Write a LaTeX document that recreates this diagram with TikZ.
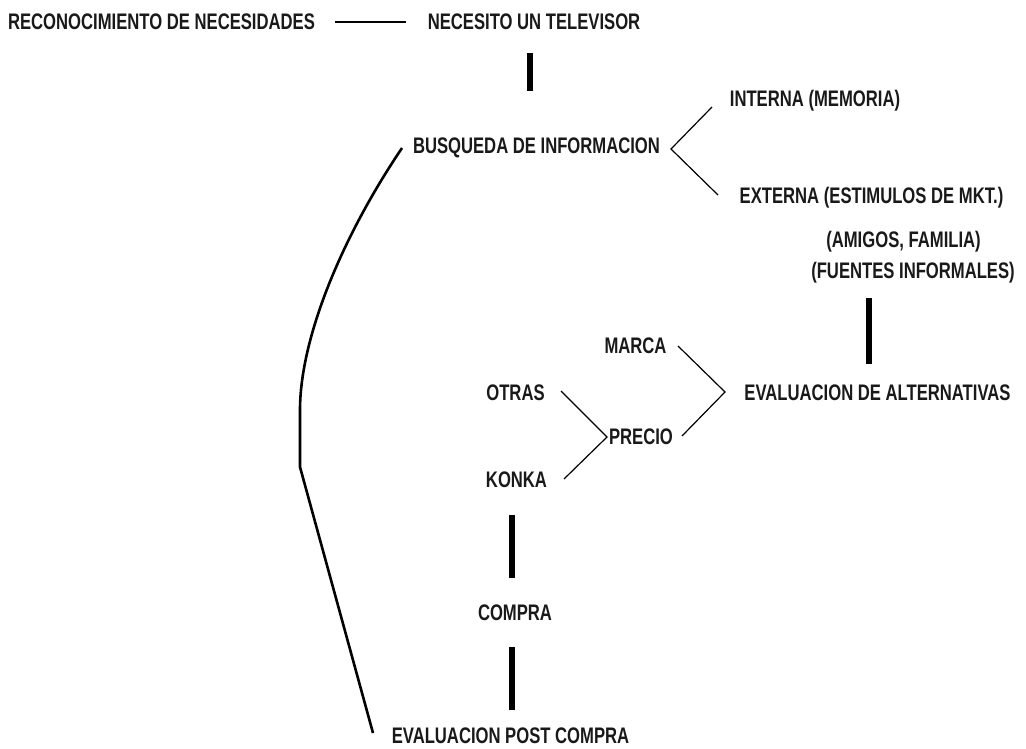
\documentclass[tikz,border=0pt]{standalone}
\usepackage{fontspec}
\newfontfamily\rotulo{Liberation Sans}[FakeStretch=0.74]
\usetikzlibrary{calc}
\tikzset{
  etapa/.style={font=\rotulo\bfseries\fontsize{22.5}{23}\selectfont, inner sep=0pt, text=black!90},
  barra/.style={line width=6pt},
  rama/.style={line width=1.2pt},
  lazo/.style={line width=2.6pt},
}

\begin{document}
\begin{tikzpicture}[x=1pt, y=-1pt]
  \useasboundingbox (0,0) rectangle (1026,749);
  % etapas
  \node[etapa] (recon)   at (161.5,22) {RECONOCIMIENTO DE NECESIDADES};
  \node[etapa] (tele)    at (534,22)   {NECESITO UN TELEVISOR};
  \node[etapa] (busq)    at (536.5,148) {BUSQUEDA DE INFORMACION};
  \node[etapa] (interna) at (815,101)  {INTERNA (MEMORIA)};
  \node[etapa] (externa) at (871.5,198) {EXTERNA (ESTIMULOS DE MKT.)};
  \node[etapa] (amigos)  at (903.5,242) {(AMIGOS, FAMILIA)};
  \node[etapa] (fuentes) at (913,273)  {(FUENTES INFORMALES)};
  \node[etapa] (marca)   at (635.5,346) {MARCA};
  \node[etapa] (evalalt) at (877.5,393) {EVALUACION DE ALTERNATIVAS};
  \node[etapa] (otras)   at (515.5,393) {OTRAS};
  \node[etapa] (precio)  at (641,437)  {PRECIO};
  \node[etapa] (konka)   at (516.5,480) {KONKA};
  \node[etapa] (compra)  at (515,613)  {COMPRA};
  \node[etapa] (post)    at (510.5,736) {EVALUACION POST COMPRA};

  % puntos de union
  \coordinate (bq-v)  at (671,149);
  \coordinate (ev-v)  at (725,392);
  \coordinate (pr-v)  at (607,437);
  \coordinate (bq-in) at (402,148);
  \coordinate (bq-c)  at (300,410);
  \coordinate (bq-d)  at (300,467);
  \coordinate (po-in) at (373,733);

  \draw[rama] (335,22) -- (406,22);
  \draw[barra] (530,53) -- (530,91);
  \draw[rama] (712,107) -- (bq-v) -- (718,195);
  \draw[barra] (869,298) -- (869,364);
  \draw[rama] (678,346) -- (ev-v) -- (682,436);
  \draw[rama] (561,391) -- (pr-v) -- (564,479);
  \draw[barra] (512,515) -- (512,578);
  \draw[barra] (512,647) -- (512,710);
  \draw[lazo] (bq-in) .. controls (340,240) and (300,340) .. (bq-c) -- (bq-d) -- (po-in);
\end{tikzpicture}
\end{document}
